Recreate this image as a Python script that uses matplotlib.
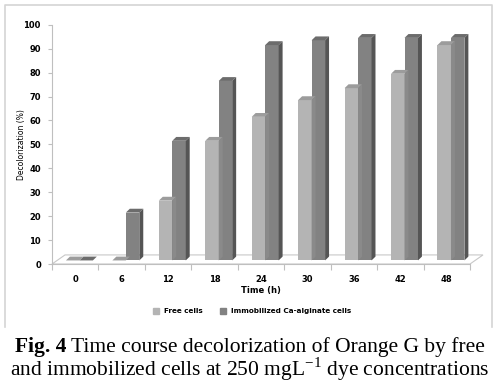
import matplotlib.pyplot as plt
import numpy as np
from matplotlib.patches import Polygon, Rectangle
from matplotlib.lines import Line2D

hours = ['0', '6', '12', '18', '24', '30', '36', '42', '48']
free_cells = [0, 0, 25, 50, 60, 67, 72, 78, 90]
immobilized = [0, 20, 50, 75, 90, 92, 93, 93, 93]

light = '#b4b4b4'
light_top = '#9c9c9c'
light_side = '#8a8a8a'
dark = '#828282'
dark_top = '#6c6c6c'
dark_side = '#555555'

fig = plt.figure(figsize=(5, 3.86), dpi=100)
ax = fig.add_axes([0.104, 0.316, 0.836, 0.62])

idx = np.arange(len(hours))
bar_w = 0.29
dx = 0.085   # depth offset in x (category units)
dy = 1.6     # depth offset in y (data units)
base = 1.5   # bars sit on the 3D floor, slightly above the axis
shift = 0.09


def bar3d(x_left, h, front, top, side):
    ax.add_patch(Rectangle((x_left, base), bar_w, h, facecolor=front, edgecolor='none', zorder=3))
    ax.add_patch(Polygon([(x_left, base + h), (x_left + bar_w, base + h),
                          (x_left + bar_w + dx, base + h + dy), (x_left + dx, base + h + dy)],
                         closed=True, facecolor=top, edgecolor='none', zorder=3))
    ax.add_patch(Polygon([(x_left + bar_w, base), (x_left + bar_w + dx, base + dy),
                          (x_left + bar_w + dx, base + h + dy), (x_left + bar_w, base + h)],
                         closed=True, facecolor=side, edgecolor='none', zorder=3))


# floor of the 3D chart
fx0, fx1 = -0.5, len(hours) - 0.5
ax.add_patch(Polygon([(fx0, 0), (fx1, 0), (fx1 + 0.28, 3.8), (fx0 + 0.28, 3.8)],
                     closed=True, facecolor='white', edgecolor='#c8c8c8', lw=0.8, zorder=1,
                     clip_on=False))

for i in idx:
    # dark bar first so the light bar's side shows over it
    bar3d(i + shift, immobilized[i], dark, dark_top, dark_side)
    bar3d(i + shift - bar_w, free_cells[i], light, light_top, light_side)

ax.set_xlim(-0.5, len(hours) - 0.5)
ax.set_ylim(0, 100)
ax.set_yticks(np.arange(0, 101, 10))
ax.set_xticks(idx)
ax.set_xticklabels(hours)
ax.set_xticks(np.arange(-0.5, len(hours), 1), minor=True)
ax.tick_params(axis='x', which='major', length=0, pad=8)
ax.tick_params(axis='x', which='minor', length=4, color='#bfbfbf', width=0.8)
ax.tick_params(axis='y', length=3, color='#bfbfbf', width=0.8, pad=5)
for lbl in ax.get_xticklabels() + ax.get_yticklabels():
    lbl.set_fontsize(6)
    lbl.set_fontweight('bold')

ax.spines['top'].set_visible(False)
ax.spines['right'].set_visible(False)
ax.spines['left'].set_color('#bfbfbf')
ax.spines['bottom'].set_color('#bfbfbf')
ax.spines['left'].set_linewidth(0.8)
ax.spines['bottom'].set_linewidth(0.8)

ax.set_ylabel('Decolorization (%)', fontsize=5.5)
ax.yaxis.set_label_coords(-0.062, 0.5)
ax.set_xlabel('Time (h)', fontsize=6, fontweight='bold', labelpad=1)

handles = [Line2D([], [], marker='s', ls='none', color=light, markersize=4.5),
           Line2D([], [], marker='s', ls='none', color=dark, markersize=4.5)]
fig.legend(handles, ['Free cells', 'Immobilized Ca-alginate cells'], loc='center',
           bbox_to_anchor=(0.5, 1 - 311 / 386), ncol=2, frameon=False,
           prop={'size': 5.2, 'weight': 'bold'}, handletextpad=0.1, columnspacing=1.8)

# outer chart border
fig.add_artist(Line2D([5 / 500, 5 / 500, 492 / 500, 492 / 500],
                      [1 - 327 / 386, 1 - 5 / 386, 1 - 5 / 386, 1 - 327 / 386],
                      color='#d4d4d4', lw=1.2))

# caption
cap_font = {'family': 'Liberation Serif', 'size': 15.5}
t1 = fig.text(0, 1 - 352 / 386, 'Fig. 4', fontweight='bold', **cap_font)
t2 = fig.text(0, 1 - 352 / 386, ' Time course decolorization of Orange G by free', **cap_font)
fig.text(0.5, 1 - 376 / 386,
         r'and immobilized cells at 250 mgL$^{\mathregular{-1}}$ dye concentrations',
         ha='center', **cap_font)

# center the mixed bold/regular first line
fig.canvas.draw()
r = fig.canvas.get_renderer()
w1 = t1.get_window_extent(r).width
w2 = t2.get_window_extent(r).width
x0 = (500 - w1 - w2) / 2
t1.set_x(x0 / 500)
t2.set_x((x0 + w1) / 500)

fig.savefig('out.png', dpi=100)
